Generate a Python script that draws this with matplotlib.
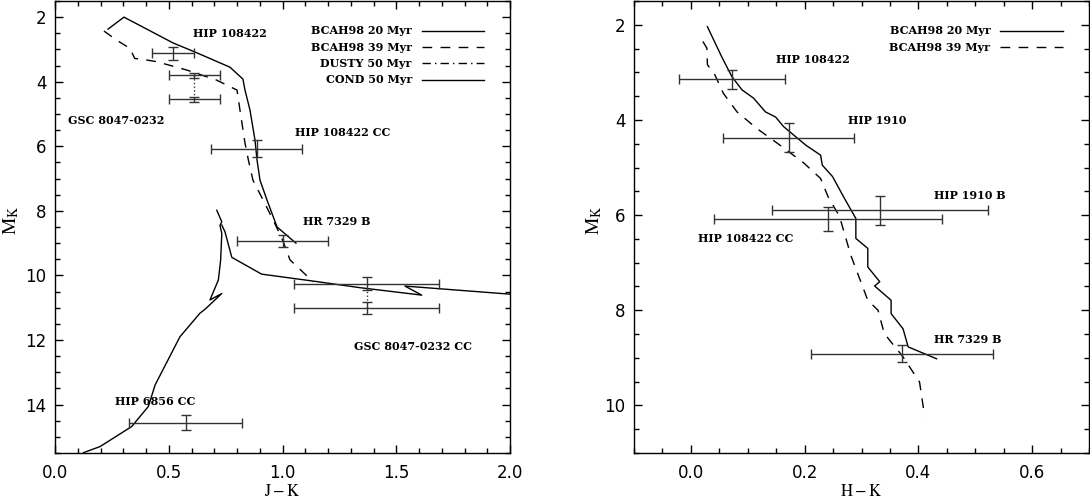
import matplotlib
matplotlib.use("Agg")
import matplotlib.pyplot as plt
from matplotlib.lines import Line2D
from matplotlib.ticker import MultipleLocator

plt.rcParams['mathtext.fontset'] = 'stix'
plt.rcParams['font.family'] = ['DejaVu Sans']

# ---------------- left panel: J-K vs M_K ----------------
bcah20_jk = [0.233, 0.303, 0.519, 0.615, 0.769, 0.826, 0.835, 0.857, 0.879, 0.888, 0.901, 0.932, 0.976, 1.059]
bcah20_mk = [2.37, 2.00, 2.80, 3.08, 3.55, 3.92, 4.26, 4.88, 5.81, 6.43, 7.05, 7.67, 8.50, 9.00]

bcah39_jk = [0.215, 0.27, 0.33, 0.35, 0.38, 0.447, 0.58, 0.71, 0.80, 0.813, 0.835, 0.85, 0.87, 0.915, 0.96, 1.00, 1.033, 1.135]
bcah39_mk = [2.43, 2.71, 2.97, 3.28, 3.30, 3.38, 3.64, 3.95, 4.26, 4.88, 5.90, 6.43, 7.05, 7.67, 8.30, 8.90, 9.52, 10.20]

dusty_jk = [0.733, 0.747, 0.777, 0.908, 1.15, 1.341, 1.612, 1.538, 2.0]
dusty_mk = [8.44, 8.65, 9.44, 9.96, 10.19, 10.38, 10.61, 10.33, 10.58]

cond_jk = [0.711, 0.733, 0.725, 0.733, 0.728, 0.718, 0.681, 0.733, 0.659, 0.637, 0.549, 0.44, 0.41, 0.337, 0.198, 0.125]
cond_mk = [7.98, 8.34, 8.45, 8.70, 9.52, 10.14, 10.76, 10.56, 11.05, 11.17, 11.90, 13.39, 14.06, 14.68, 15.30, 15.49]

obs_jk = [0.52, 0.612, 0.612, 0.886, 1.0, 1.37, 1.37, 0.574]
obs_jk_err = [0.093, 0.113, 0.113, 0.2, 0.2, 0.32, 0.32, 0.25]
obs_mk_l = [3.12, 3.80, 4.54, 6.07, 8.93, 10.25, 11.0, 14.56]
obs_mk_l_err = [0.2, 0.07, 0.08, 0.26, 0.18, 0.2, 0.18, 0.23]

labels_l = ['HIP 108422', 'GSC 8047-0232', 'HIP 108422 CC', 'HR 7329 B', 'GSC 8047-0232 CC', 'HIP 6856 CC']
labels_l_x = [0.607, 0.057, 1.055, 1.09, 1.314, 0.264]
labels_l_y = [2.5, 5.19, 5.58, 8.34, 12.2, 13.91]

# ---------------- right panel: H-K vs M_K ----------------
r20_hk = [0.029, 0.054, 0.072, 0.090, 0.110, 0.131, 0.149, 0.163, 0.184, 0.202, 0.228, 0.231, 0.249, 0.270,
          0.29, 0.29, 0.311, 0.311, 0.332, 0.323, 0.352, 0.352, 0.373, 0.382, 0.432]
r20_mk = [2.04, 2.67, 3.09, 3.37, 3.54, 3.83, 3.94, 4.14, 4.35, 4.53, 4.74, 4.95, 5.19, 5.65,
          6.07, 6.49, 6.70, 7.09, 7.40, 7.49, 7.79, 8.07, 8.39, 8.77, 9.02]

r39_hk = [0.021, 0.028, 0.029, 0.042, 0.057, 0.081, 0.116, 0.152, 0.199, 0.228, 0.241, 0.258, 0.264,
          0.281, 0.311, 0.329, 0.340, 0.373, 0.402, 0.411]
r39_mk = [2.35, 2.49, 2.84, 3.05, 3.44, 3.83, 4.18, 4.49, 4.91, 5.23, 5.61, 5.96, 6.14,
          6.84, 7.79, 8.00, 8.49, 8.98, 9.51, 10.23]

obs_hk = [0.072, 0.172, 0.333, 0.241, 0.372]
obs_hk_err = [0.093, 0.115, 0.19, 0.2, 0.16]
obs_mk_r = [3.14, 4.37, 5.90, 6.08, 8.91]
obs_mk_r_err = [0.2, 0.3, 0.3, 0.26, 0.17]

labels_r = ['HIP 108422', 'HIP 1910', 'HIP 1910 B', 'HIP 108422 CC', 'HR 7329 B']
labels_r_x = [0.150, 0.276, 0.428, 0.013, 0.428]
labels_r_y = [2.72, 4.01, 5.58, 6.49, 8.62]

lab_font = dict(family='DejaVu Serif', fontweight='bold', fontsize=8, va='center', ha='left')
leg_font = dict(family='DejaVu Serif', weight='bold', size=8)
ebcol = '#333333'

fig = plt.figure(figsize=(10.9, 5.0), dpi=100)
ax1 = fig.add_axes([0.0505, 0.094, 0.4174, 0.904])
ax2 = fig.add_axes([0.5817, 0.094, 0.4174, 0.904])

# left
ax1.plot(bcah20_jk, bcah20_mk, color='k', lw=1.0)
ax1.plot(bcah39_jk, bcah39_mk, color='k', lw=1.0, dashes=(7, 6))
ax1.plot(dusty_jk, dusty_mk, color='k', lw=1.0)
ax1.plot(cond_jk, cond_mk, color='k', lw=1.0)
ax1.errorbar(obs_jk, obs_mk_l, xerr=obs_jk_err, yerr=obs_mk_l_err, fmt='none',
             ecolor=ebcol, elinewidth=1.0, capsize=3.5, capthick=1.0)
# dotted connectors between the two GSC 8047-0232 measurements
ax1.plot([obs_jk[1], obs_jk[2]], [obs_mk_l[1], obs_mk_l[2]], color=ebcol, lw=1.0, ls=':')
ax1.plot([obs_jk[5], obs_jk[6]], [obs_mk_l[5], obs_mk_l[6]], color=ebcol, lw=1.0, ls=':')
for t, x, y in zip(labels_l, labels_l_x, labels_l_y):
    ax1.text(x, y, t, **lab_font)

h1 = [Line2D([], [], color='k', lw=1.0),
      Line2D([], [], color='k', lw=1.0, dashes=(7, 6)),
      Line2D([], [], color='k', lw=1.0, dashes=(6, 3, 1, 3)),
      Line2D([], [], color='k', lw=1.0)]
ax1.legend(h1, ['BCAH98 20 Myr', 'BCAH98 39 Myr', 'DUSTY 50 Myr', 'COND 50 Myr'],
           loc='upper right', bbox_to_anchor=(0.943, 0.946), frameon=False, markerfirst=False,
           handlelength=5.6, handletextpad=0.9, labelspacing=0.48, borderpad=0, borderaxespad=0,
           prop=leg_font)

ax1.set_xlim(0, 2.0)
ax1.set_ylim(15.5, 1.5)
ax1.xaxis.set_major_locator(MultipleLocator(0.5))
ax1.xaxis.set_minor_locator(MultipleLocator(0.1))
ax1.set_xlabel(r'$\mathrm{J-K}$', fontsize=12)
ax1.xaxis.set_label_coords(0.5, -0.064)

# right
ax2.plot(r20_hk, r20_mk, color='k', lw=1.0)
ax2.plot(r39_hk, r39_mk, color='k', lw=1.0, dashes=(7, 6))
ax2.errorbar(obs_hk, obs_mk_r, xerr=obs_hk_err, yerr=obs_mk_r_err, fmt='none',
             ecolor=ebcol, elinewidth=1.0, capsize=3.5, capthick=1.0)
for t, x, y in zip(labels_r, labels_r_x, labels_r_y):
    ax2.text(x, y, t, **lab_font)

h2 = [Line2D([], [], color='k', lw=1.0),
      Line2D([], [], color='k', lw=1.0, dashes=(7, 6))]
ax2.legend(h2, ['BCAH98 20 Myr', 'BCAH98 39 Myr'],
           loc='upper right', bbox_to_anchor=(0.942, 0.946), frameon=False, markerfirst=False,
           handlelength=5.6, handletextpad=0.9, labelspacing=0.48, borderpad=0, borderaxespad=0,
           prop=leg_font)

ax2.set_xlim(-0.1, 0.7)
ax2.set_ylim(11, 1.5)
ax2.xaxis.set_major_locator(MultipleLocator(0.2))
ax2.xaxis.set_minor_locator(MultipleLocator(0.05))
ax2.set_xlabel(r'$\mathrm{H-K}$', fontsize=12)
ax2.xaxis.set_label_coords(0.5, -0.064)

for ax, ylx in ((ax1, -0.074), (ax2, -0.066)):
    ax.yaxis.set_major_locator(MultipleLocator(2))
    ax.yaxis.set_minor_locator(MultipleLocator(0.5))
    ax.tick_params(which='both', direction='in', top=True, right=True, labelsize=12)
    ax.tick_params(which='major', length=6, width=1.0)
    ax.tick_params(which='minor', length=3.5, width=1.0)
    ax.tick_params(axis='x', pad=8)
    ax.tick_params(axis='y', pad=6)
    ax.set_ylabel(r'$\mathrm{M_K}$', fontsize=14)
    ax.yaxis.set_label_coords(ylx, 0.515)
    for s in ax.spines.values():
        s.set_linewidth(1.0)

fig.savefig('out.png', dpi=100)
